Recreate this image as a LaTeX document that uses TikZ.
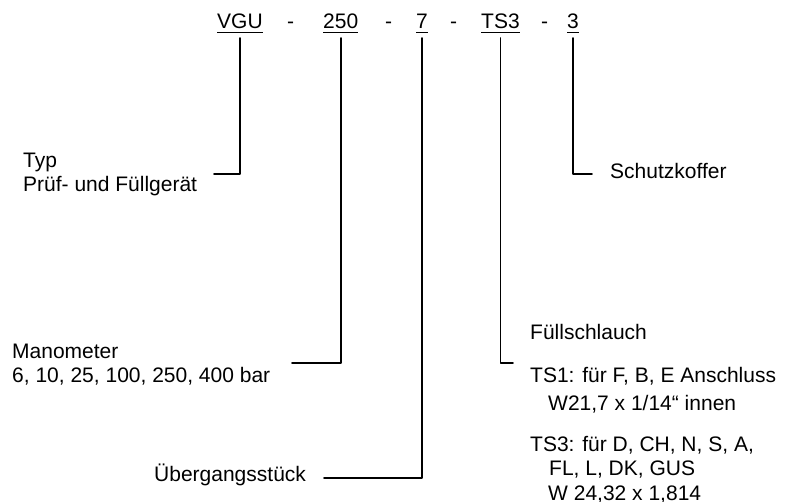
\documentclass[tikz,border=0pt]{standalone}
\usepackage{fontspec}
\setmainfont{Liberation Sans}
\begin{document}
\begin{tikzpicture}[x=1pt,y=-1pt,line cap=round,line join=round,
  every node/.style={inner sep=0pt,anchor=base west,font=\fontsize{21}{24.5}\selectfont},
  lbl/.style={align=left},
  uline/.style={line width=1.3pt,line cap=butt},
  leader/.style={line width=1.6pt}]
  \useasboundingbox (0,0) rectangle (795,502);

  % Typenschluessel
  \node (vgu)   at (217,29) {VGU};
  \node (d1)    at (287,29) {-};
  \node (bar)   at (323,29) {250};
  \node (d2)    at (385,29) {-};
  \node (adapt) at (416,29) {7};
  \node (d3)    at (450,29) {-};
  \node (hose)  at (481,29) {TS3};
  \node (d4)    at (541,29) {-};
  \node (case)  at (567,29) {3};

  \foreach \n in {vgu,bar,adapt,hose,case}
    \draw[uline] ([yshift=-3.5pt]\n.base west) -- ([yshift=-3.5pt]\n.base east);

  % Erklaerungen (base = letzte Zeile)
  \node[lbl] (typ)   at (23,192)  {Typ\\Prüf- und Füllgerät};
  \node[lbl] (mano)  at (12,383)  {Manometer\\6, 10, 25, 100, 250, 400 bar};
  \node      (ueb)   at (154,481) {Übergangsstück};
  \node      (fuell) at (530,340) {Füllschlauch};
  \node[lbl] (ts1)   at (530,410) {TS1: für F, B, E Anschluss\\[3pt]\hspace{18pt}W21,7 x 1/14“ innen};
  \node[lbl] (ts3)   at (530,500) {TS3: für D, CH, N, S, A,\\\hspace{19pt}FL, L, DK, GUS\\\hspace{18pt}W 24,32 x 1,814};
  \node      (koff)  at (610,179) {Schutzkoffer};

  \coordinate (typ end)   at (214,174);
  \coordinate (mano end)  at (292,363);
  \coordinate (ueb end)   at (324,478);
  \coordinate (fuell end) at (513,363);
  \coordinate (koff end)  at (592,174);

  \draw[leader] ([yshift=-9pt]vgu.base)   |- (typ end);
  \draw[leader] ([yshift=-9pt]bar.base)   |- (mano end);
  \draw[leader] ([yshift=-9pt]adapt.base) |- (ueb end);
  \draw[leader] ([yshift=-9pt]hose.base)  |- (fuell end);
  \draw[leader] ([yshift=-9pt]case.base)  |- (koff end);
\end{tikzpicture}
\end{document}
